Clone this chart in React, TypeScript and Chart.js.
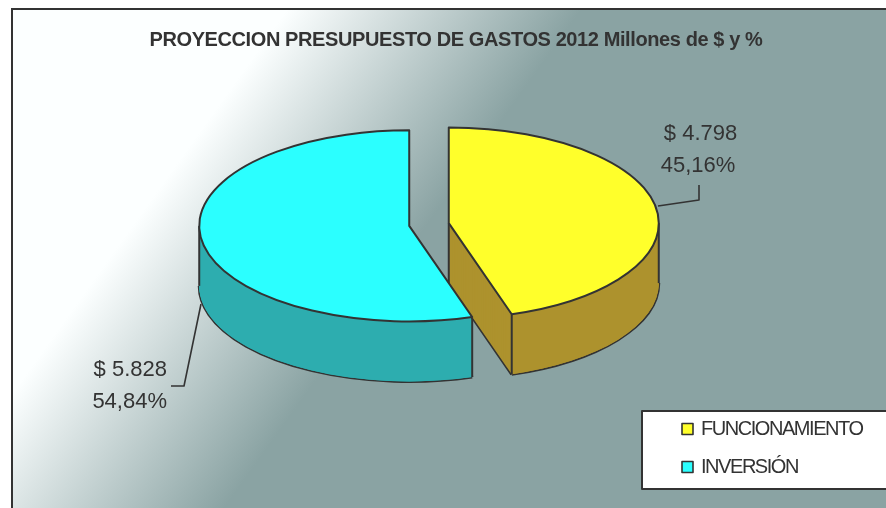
import React, { useEffect, useRef } from "react";
import { Chart, registerables } from "chart.js";

Chart.register(...registerables);

const titleText = "PROYECCION PRESUPUESTO DE GASTOS 2012 Millones de $ y %";
const categories = ["FUNCIONAMIENTO", "INVERSIÓN"];
const values = [4798, 5828];
const valueLabels = ["$ 4.798", "$ 5.828"];
const percentLabels = ["45,16%", "54,84%"];
const topColors = ["#FFFF2B", "#2BFFFF"];
const wallColors = ["#AD922D", "#2DADAF"];

const INK = "#333333";
const TILT = 0.455;
const DEPTH = 60;
const EXPLODE = 20;
const FONT = '"Liberation Sans", Arial, sans-serif';

function sectors(chart: any) {
  const meta = chart.getDatasetMeta(0);
  return meta.data.map((arc: any, i: number) => {
    const p = arc.getProps(["x", "y", "startAngle", "endAngle", "outerRadius"], true);
    const mid = (p.startAngle + p.endAngle) / 2;
    return {
      i,
      arc,
      ox: p.x,
      oy: p.y,
      x: p.x + Math.cos(mid) * EXPLODE,
      y: p.y + Math.sin(mid) * EXPLODE * TILT,
      r: p.outerRadius,
      a0: p.startAngle,
      a1: p.endAngle,
    };
  });
}

function tracePath(ctx: CanvasRenderingContext2D, s: any, dy: number) {
  ctx.beginPath();
  ctx.moveTo(s.x, s.y + dy);
  ctx.ellipse(s.x, s.y + dy, s.r, s.r * TILT, 0, s.a0, s.a1);
  ctx.closePath();
}

function drawWall(ctx: CanvasRenderingContext2D, s: any) {
  const lo = Math.max(s.a0, 0);
  const hi = Math.min(s.a1, Math.PI);
  const rimPoints = [s.a0, s.a1]
    .filter((a: number) => Math.sin(a) > 0)
    .map((a: number) => [s.x + Math.cos(a) * s.r, s.y + Math.sin(a) * s.r * TILT]);

  // lower outline: only the rim and the cut edges that face the viewer
  ctx.strokeStyle = INK;
  ctx.lineWidth = 3;
  ctx.lineJoin = "round";
  ctx.beginPath();
  ctx.ellipse(s.x, s.y + DEPTH, s.r, s.r * TILT, 0, lo, hi);
  for (const [px, py] of rimPoints) {
    ctx.moveTo(s.x, s.y + DEPTH);
    ctx.lineTo(px, py + DEPTH);
  }
  ctx.stroke();

  ctx.fillStyle = wallColors[s.i];
  for (let d = DEPTH; d >= 0; d--) {
    tracePath(ctx, s, d);
    ctx.fill();
  }
  // one solid band over the visible outer rim, so the wall has no seams
  ctx.beginPath();
  ctx.ellipse(s.x, s.y, s.r, s.r * TILT, 0, lo, hi);
  ctx.ellipse(s.x, s.y + DEPTH, s.r, s.r * TILT, 0, hi, lo, true);
  ctx.closePath();
  ctx.fill();

  ctx.lineWidth = 2;
  const pts: number[][] = [[s.x, s.y], ...rimPoints];
  for (const ext of [0, Math.PI]) {
    if (ext > s.a0 && ext < s.a1) pts.push([s.x + Math.cos(ext) * s.r, s.y]);
  }
  for (const [px, py] of pts) {
    ctx.beginPath();
    ctx.moveTo(px, py);
    ctx.lineTo(px, py + DEPTH);
    ctx.stroke();
  }
}

const pie3d = {
  id: "pie3d",
  beforeDraw(chart: any) {
    const ctx: CanvasRenderingContext2D = chart.ctx;
    const W = chart.width;
    const H = chart.height;
    ctx.save();
    ctx.fillStyle = "#ffffff";
    ctx.fillRect(0, 0, W, H);
    const nx = 0.81;
    const ny = 0.58;
    const g = ctx.createLinearGradient(nx * 240, ny * 240, nx * 480, ny * 480);
    g.addColorStop(0, "#FCFFFF");
    g.addColorStop(1, "#8AA3A3");
    ctx.fillStyle = g;
    ctx.fillRect(12, 9, W, H);
    ctx.strokeStyle = INK;
    ctx.lineWidth = 2;
    ctx.strokeRect(12, 9, W + 20, H + 20);

    ctx.fillStyle = INK;
    ctx.font = `bold 20px ${FONT}`;
    ctx.textAlign = "left";
    ctx.textBaseline = "middle";
    (ctx as any).letterSpacing = "-0.4px";
    ctx.fillText(titleText, 149.5, 40);
    ctx.restore();
  },
  beforeDatasetsDraw(chart: any) {
    const ctx: CanvasRenderingContext2D = chart.ctx;
    const list = sectors(chart);
    ctx.save();
    list.slice().reverse().forEach((s: any) => drawWall(ctx, s));
    list.forEach((s: any) => {
      ctx.save();
      ctx.translate(s.x, s.y);
      ctx.scale(1, TILT);
      ctx.translate(-s.ox, -s.oy);
      s.arc.draw(ctx);
      ctx.restore();
    });

    ctx.strokeStyle = INK;
    ctx.lineWidth = 2;
    ctx.lineJoin = "round";
    list.forEach((s: any) => {
      tracePath(ctx, s, 0);
      ctx.stroke();
    });

    // leader lines
    ctx.lineWidth = 1.6;
    ctx.beginPath();
    ctx.moveTo(658, 206);
    ctx.lineTo(699, 200);
    ctx.lineTo(699, 185);
    ctx.moveTo(201, 304);
    ctx.lineTo(184, 386);
    ctx.lineTo(171, 386);
    ctx.stroke();

    // data labels
    ctx.fillStyle = INK;
    ctx.font = `22px ${FONT}`;
    ctx.textAlign = "center";
    ctx.textBaseline = "middle";
    ctx.fillText(valueLabels[0], 700.5, 134);
    ctx.fillText(percentLabels[0], 698, 166);
    ctx.textAlign = "right";
    ctx.fillText(valueLabels[1], 167, 370);
    ctx.fillText(percentLabels[1], 167, 402);

    // legend
    ctx.fillStyle = "#ffffff";
    ctx.fillRect(642, 411, 260, 78);
    ctx.lineWidth = 2;
    ctx.strokeRect(642, 411, 260, 78);
    ctx.textAlign = "left";
    ctx.font = `20px ${FONT}`;
    (ctx as any).letterSpacing = "-1.45px";
    const rowY = [429.5, 467.5];
    chart.data.labels.forEach((label: string, i: number) => {
      ctx.fillStyle = topColors[i];
      ctx.fillRect(682, rowY[i] - 6, 11, 11);
      ctx.lineWidth = 1.6;
      ctx.strokeStyle = INK;
      ctx.strokeRect(682, rowY[i] - 6, 11, 11);
      ctx.fillStyle = INK;
      ctx.fillText(label, 701, rowY[i]);
    });
    ctx.restore();
    return false;
  },
};

export default function App() {
  const ref = useRef<HTMLCanvasElement>(null);
  useEffect(() => {
    document.body.style.margin = "0";
    const chart = new Chart(ref.current as HTMLCanvasElement, {
      type: "pie",
      data: {
        labels: categories,
        datasets: [
          {
            data: values,
            backgroundColor: topColors,
            borderWidth: 0,
          } as any,
        ],
      },
      options: {
        responsive: false,
        animation: false,
        radius: 210,
        layout: { padding: { left: 0, right: 28, top: 0, bottom: 59 } },
        plugins: { legend: { display: false }, title: { display: false }, tooltip: { enabled: false } },
      } as any,
      plugins: [pie3d],
    });
    return () => chart.destroy();
  }, []);
  return (
    <div style={{ position: "absolute", left: 0, top: 0, width: 886, height: 508 }}>
      <canvas ref={ref} width={886} height={508} style={{ display: "block" }} />
    </div>
  );
}
